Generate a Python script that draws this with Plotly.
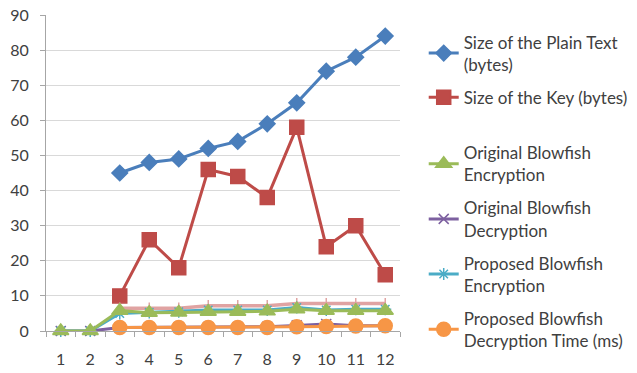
import plotly.graph_objects as go

categories = ["1", "2", "3", "4", "5", "6", "7", "8", "9", "10", "11", "12"]
plain_text = [None, None, 45, 48, 49, 52, 54, 59, 65, 74, 78, 84]
key_size = [None, None, 10, 26, 18, 46, 44, 38, 58, 24, 30, 16]
orig_enc = [0, 0, 5.8, 5.2, 5.3, 5.5, 5.5, 5.6, 6.2, 5.8, 5.8, 5.8]
orig_dec = [0, 0, 1, 1, 1.1, 1.1, 1.1, 1.2, 1.6, 2, 1.5, 1.5]
prop_enc = [0, 0, 5.0, 5.3, 5.5, 6, 6, 6, 6.7, 6.0, 6.2, 6.2]
prop_dec = [None, None, 1, 1, 1, 1, 1, 1, 1.2, 1.3, 1.4, 1.5]
extra = [None, None, 6.5, 6.5, 6.5, 7.2, 7.2, 7.2, 7.8, 7.8, 7.8, 7.8]

names = [
    "Size of the Plain Text<br>(bytes)",
    "Size of the Key (bytes)",
    "Original Blowfish<br>Encryption",
    "Original Blowfish<br>Decryption",
    "Proposed Blowfish<br>Encryption",
    "Proposed Blowfish<br>Decryption Time (ms)",
]


def make(y, name, color, symbol, size, rank, legend="legend", show=True, width=3):
    return go.Scatter(
        x=categories, y=y, name=name, mode="lines+markers",
        line=dict(color=color, width=width),
        marker=dict(symbol=symbol, size=size, color=color,
                    line=dict(color=color, width=1.5)),
        legendgroup="g%d" % rank, legendrank=rank, legend=legend,
        showlegend=show, connectgaps=False, cliponaxis=False,
    )

t_plain = make(plain_text, names[0], "#4A7EBB", "diamond", 12, 1)
t_key = make(key_size, names[1], "#BE4B48", "square", 14, 2)
t_oenc = make(orig_enc, names[2], "#9BBB59", "triangle-up", 14, 3, "legend2")
t_odec = make(orig_dec, names[3], "#7D60A0", "x-thin-open", 10, 4, "legend2")
t_penc = make(prop_enc, names[4], "#4BACC6", "asterisk-open", 10, 5, "legend2")
t_pdec = make(prop_dec, names[5], "#F79646", "circle", 14, 6, "legend2")
t_extra = make(extra, "", "#E0A3A2", "line-ns-open", 8, 7, show=False, width=3.5)

fig = go.Figure([t_plain, t_key, t_odec, t_extra, t_penc, t_oenc, t_pdec])

legend_style = dict(xanchor="left", yanchor="top", traceorder="grouped",
                    tracegroupgap=8, font=dict(size=17, color="#404040"),
                    bgcolor="rgba(0,0,0,0)", maxheight=373)

fig.update_layout(
    width=637, height=373,
    margin=dict(l=46, r=237, t=15, b=42, autoexpand=False),
    paper_bgcolor="white", plot_bgcolor="white",
    font=dict(family="Lato, Open Sans, sans-serif", size=14, color="#404040"),
    showlegend=True,
    legend=dict(x=1.067, y=0.97, **legend_style),
    legend2=dict(x=1.067, y=0.62, **legend_style),
)
fig.update_xaxes(
    type="category", range=[-0.5, 11.5], tickson="boundaries",
    ticks="outside", ticklen=5, tickcolor="#A6A6A6",
    showline=True, linecolor="#A6A6A6", linewidth=1,
    showgrid=False, ticklabelstandoff=14,
    tickfont=dict(size=16, color="#404040"),
)
fig.update_yaxes(
    range=[0, 90], dtick=10, ticks="outside", ticklen=5, tickcolor="#A6A6A6",
    showline=True, linecolor="#A6A6A6", linewidth=1,
    showgrid=True, gridcolor="#D9D9D9", gridwidth=1, zeroline=False,
    ticklabelstandoff=8,
    tickfont=dict(size=16, color="#404040"),
)

fig.write_html("out.html", config={"displayModeBar": False},
               post_script="document.body.style.margin='0';")
